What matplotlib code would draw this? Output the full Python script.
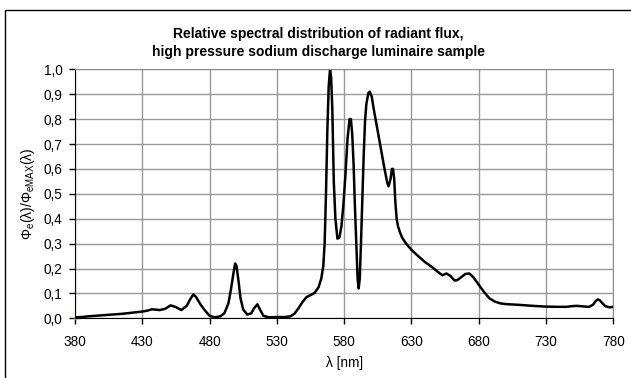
import matplotlib
matplotlib.use('Agg')
import matplotlib.pyplot as plt
from matplotlib.patches import Rectangle
from matplotlib.ticker import FuncFormatter

plt.rcParams['font.family'] = ['Liberation Sans', 'DejaVu Sans']
plt.rcParams['mathtext.fontset'] = 'custom'
plt.rcParams['mathtext.rm'] = 'Liberation Sans'
plt.rcParams['mathtext.it'] = 'Liberation Sans'

# spectrum
wavelength = [380, 385, 390, 395, 400, 405, 410, 415, 420, 425, 430, 434, 437, 440, 443, 447,
              451, 455, 459, 463, 466, 468, 470, 473, 476, 480, 484, 488, 491, 494, 496, 498,
              499, 500, 501.5, 503, 505, 508, 511, 513, 515.5, 517.5, 520, 524, 530, 536, 540,
              543, 546, 549, 552, 555, 558, 561, 563, 564.5, 565.5, 566.5, 567.5, 568.5, 569.5,
              570.3, 571.2, 572.3, 573.5, 575, 576.5, 578, 579.5, 581, 582.5, 584, 585, 586,
              587, 588, 589, 590, 590.8, 591.6, 592.5, 593.5, 594.5, 595.5, 596.5, 598, 599,
              600.5, 602, 604, 606, 608, 610, 612, 613, 614.5, 615.5, 616.3, 617.2, 618, 619,
              620, 621.5, 623, 626, 630, 635, 640, 645, 650, 653, 656, 659, 662, 664, 667, 670,
              673, 676, 680, 684, 688, 692, 696, 700, 710, 720, 730, 740, 745, 750, 753, 757,
              762, 765, 767, 768.5, 770, 772, 774, 777, 780]
rel_flux = [0.004, 0.005, 0.008, 0.010, 0.012, 0.014, 0.016, 0.018, 0.021, 0.024, 0.027, 0.031,
            0.036, 0.035, 0.033, 0.038, 0.052, 0.045, 0.033, 0.050, 0.080, 0.096, 0.085, 0.058,
            0.035, 0.010, 0.004, 0.008, 0.020, 0.060, 0.120, 0.190, 0.220, 0.210, 0.150, 0.080,
            0.035, 0.015, 0.020, 0.040, 0.056, 0.035, 0.010, 0.004, 0.005, 0.005, 0.008, 0.018,
            0.040, 0.065, 0.085, 0.093, 0.102, 0.125, 0.160, 0.210, 0.300, 0.500, 0.750, 0.930,
            1.000, 0.970, 0.840, 0.550, 0.400, 0.320, 0.325, 0.370, 0.460, 0.580, 0.720, 0.800,
            0.800, 0.740, 0.620, 0.450, 0.300, 0.160, 0.120, 0.160, 0.300, 0.480, 0.650, 0.790,
            0.860, 0.905, 0.910, 0.890, 0.840, 0.780, 0.720, 0.660, 0.600, 0.545, 0.530, 0.560,
            0.600, 0.600, 0.560, 0.470, 0.400, 0.370, 0.345, 0.325, 0.300, 0.275, 0.250, 0.226,
            0.207, 0.185, 0.173, 0.180, 0.170, 0.152, 0.153, 0.165, 0.178, 0.180, 0.165, 0.135,
            0.105, 0.080, 0.067, 0.060, 0.057, 0.054, 0.050, 0.047, 0.046, 0.046, 0.049, 0.050,
            0.048, 0.046, 0.055, 0.070, 0.076, 0.072, 0.060, 0.049, 0.044, 0.046]
# short yellow trace visible at the very start of the axis
marker_wl = [380, 383]
marker_val = [0.002, 0.002]

x_ticks = [380, 430, 480, 530, 580, 630, 680, 730, 780]
y_ticks = [i / 10 for i in range(11)]

fig = plt.figure(figsize=(6.31, 3.78), dpi=100)
fig.patches.append(Rectangle((5 / 631, -0.1), 1.2, 1.1 - 10 / 378, transform=fig.transFigure,
                             fill=False, edgecolor='black', lw=1.0))

ax = fig.add_axes([75 / 631, 1 - 318.3 / 378, 538.3 / 631, 249 / 378])
ax.plot(marker_wl, marker_val, color='#f2d200', lw=1.8, clip_on=False)
ax.plot(wavelength, rel_flux, color='black', lw=1.8, solid_joinstyle='round')

ax.set_xlim(380, 780)
ax.set_ylim(0, 1.0)
ax.set_xticks(x_ticks)
ax.set_yticks(y_ticks)
ax.yaxis.set_major_formatter(FuncFormatter(lambda v, _: f"{v:.1f}".replace('.', ',')))
ax.grid(True, color='#999999', lw=1.0)
ax.set_axisbelow(True)
for s in ['top', 'right']:
    ax.spines[s].set_color('#8c8c8c')
for s in ['left', 'bottom']:
    ax.spines[s].set_color('black')
ax.tick_params(direction='out', length=4, width=1, labelsize=9.8, color='black')
ax.tick_params(axis='x', pad=8)
ax.tick_params(axis='y', pad=5)

ax.set_xlabel('λ [nm]', fontsize=9.8, labelpad=5)
ax.set_ylabel(r'$\Phi_{e}(\lambda)/\Phi_{eMAX}(\lambda)$', fontsize=10, labelpad=5)
fig.text(0.505, 1 - 34 / 378, 'Relative spectral distribution of radiant flux,',
         ha='center', va='center', fontsize=10, fontweight='bold')
fig.text(0.505, 1 - 52 / 378, 'high pressure sodium discharge luminaire sample',
         ha='center', va='center', fontsize=10, fontweight='bold')

fig.savefig('out.png', dpi=100)
